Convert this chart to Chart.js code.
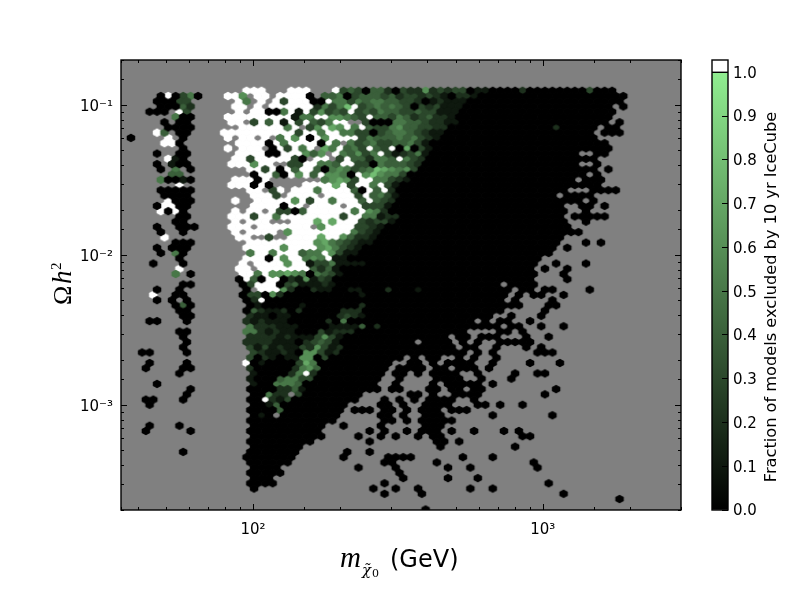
<!DOCTYPE html>
<html>
<head>
<meta charset="utf-8">
<script src="https://cdn.jsdelivr.net/npm/chart.js@4"></script>
<style>
html,body{margin:0;padding:0;background:#fff;width:800px;height:600px;overflow:hidden}
canvas{position:absolute;top:0}
#main{left:0}
#bar{left:700px}
</style>
</head>
<body>
<canvas id="main" width="800" height="600"></canvas>
<canvas id="bar" width="100" height="600"></canvas>
<script>
// Axis ranges and labels
const xRange = [35, 3000];
const yRange = [2e-4, 0.2];
const xDecadeLabels = {100: '10\u00B2', 1000: '10\u00B3'};
const yDecadeLabels = {0.1: '10\u207B\u00B9', 0.01: '10\u207B\u00B2', 0.001: '10\u207B\u00B3'};
const barTitle = 'Fraction of models excluded by 10 yr IceCube';
const barTicks = [0, 0.1, 0.2, 0.3, 0.4, 0.5, 0.6, 0.7, 0.8, 0.9, 1.0];

// Hexagonal bin lattice, in decades of the two log axes
const binLogX0 = 1.5783, binLogXStep = 0.02575;
const binLogY0 = -0.9043, binLogYStep = -0.03489;

// One line per hexagon row, top to bottom. "a-b" = cells a..b at fraction 0,
// "a:chars" = cells from a: digit = tenths of fraction, W = above 1.0, "." = no cell.
const hexRows = [
"16:WWW 22:WWW 28:W34304420322623233011 49-65 53:2 62:3",
"4:0W0350 13:WW6 17:WW 20:WWWW0 26:445034443423323210221 47-66",
"4:00033 15:W5 18:W 20:W3WWW 25:00W5535455443320 41:12111 46-66",
"4:00042 14:WW 17:W 19:WWWWW 24:W25358W34545430323111 45-64 66:0",
"3:000 7:W3 15:W 17:WW 19:005 22:W1 24:W36343W34354433433111 45-65",
"6:500 13:WWWWWWWWW 22:15 24:5WW66543W44354234221 44-64",
"5:0 7:00 14:WW 17:3W4W 21:1W3 24:W435WW 32:3000554432211 45-64 66:0",
"5:0000 15:WWWWWW 21:5W 24:36W76W5W43356443322 43-62 57:2 64:00",
"4:W4 7:00 13:WWWWWWWWWW 23:3 24:WW5WW55330345543211 43-62 64:000",
"0:0 5:W 7:0 13:W 15:WW 18:W 20:5W6W 24:0W6WWWW35444545321 42-62",
"5:WW 7:0 15:WWWW 19:0W5WWW 25:W0W5.53453344531 41-64",
"7:0 13:W 15:WWW 19:0W3W5W 25:.75W453W43W07031 41-64",
"4:0 7:00 15:WWWW 19:00WWW6 25:46.W54635W312351 41-60 63:00",
"5:W10 14:WW3WWWWW 22:30 25:WW.3W442554W532 40-62",
"4:0 6:100 14:WWW6WW 22:33W 25:W554WW330544432 40-60 63:0",
"4:0 6:5 8:0 16:WW3W0W4W 24:W40565345876563 39-62 64:0",
"6:44 17:0WW40W6 24:W4W6650W686553 38-61 63:0",
"4:50010 14:WWW0W 26:56763WW55321 38-59 61:000",
"7:W 14:WWW0W0 24:WWWW7W3WW5W31 37-63",
"4:00000 16:WW 19:3W 22:WW 24:W5WWWW40W4W2 36-58 62:00 64:00",
"5:0000 17:WWW3 22:WW 24:WW.WWWW3W4531 37-62 58:.",
"5:W000 14:W 17:WWWWW6W 24:3WW5WWW4W432 36-62 61:.",
"4:0WW00 17:WWWW0WW 25:WWWW.WW3331 36-58 61:00 64:0",
"4:W0W0 14:W.WW.W3304WW 26:WWWW5W652 35-58 61:0",
"7:00 14:WWW3WW5WWWW 25:WWWW3WW55122 37-58 60:00000",
"6:00 14:W.WWW...WWW7W7WWW32331 36-58 61:0",
"4:0 7:000 14:WWW.WWWWWWW.6WWWW3321 35-59",
"4:0 7:0 14:W.WWWW.6WWWWWWWW5321 34-60",
"5:W 15:WW..3..WWWW7WW64221 34-58",
"6:000 16:WWWWWWWWW67543211 33-57 61:0 63:0",
"4:0 6:000 16:WWWWW6WWWW675321 32-57 59:0",
"4:0 6:50 16:5WW5WWW455W6311 31-56",
"7:0 16:WWW0W6WW565W11 30-55",
"3:0 7:0 15:W.WWWW6WW13351111 32-54 57:0 61:0",
"7:W 15:WW.WWWWWWW4241 29-54 56:0 59:0",
"6:5 8:0 15:WW5W6676505431 29-54 58:0",
"15:0W40WW0216132 28-54 59:0",
"7:00 15:03WWW03411121 28-54 50:.",
"4:0 7:0 16:0.WWW6200211 28-54 30:11 35:2 39:1 52:. 56:00 62:0",
"3:W 6:00 15:033062 21-55 31:1 51:. 53:. 58:0",
"4:0 6:0 8:0 16:02W 19-52 51:. 57:0",
"6:040 16:01 18-52 23:1 31:2 56:00",
"7:00 16:042 19-50 19:112 23:2 29:222 56:0",
"7:00 16-48 16:211 20:11 28:232 31:1 51:0 55:0",
"3:00 8:0 16:212 19-46 19:1110 27:2 29:5 48:0 50:00 54:0",
"16:522 19-49 19:2111 27:1111 31:4 33:2 51:00 55:0 58:0",
"7:00 16:552 19-45 19:1211 26:31222 50:00 53:0",
"7:0 16:222 19-49 19:212111 25:3631 43:. 46:. 53:0 56:0",
"8:0 16:222 19-47 19:2111 24:23431 39:. 44:. 46:. 50:00000",
"7:0 16:313 19-46 19:1211 23:326312 44:. 49:0 53:0 55:0",
"2:00 8:0 17:321 20-47 20:121 24:66312 46:. 49:0 55:000",
"16:3 17-46 18:21 21:11 23:66 26:3 37:. 39:. 42:.. 45:. 49:0",
"3:0 8:0 16:W 17-45 18:1 23:375 36:.. 40:. 42:. 46:0 49:0 54:0 58:0",
"2:0 7:00 16:2 17-46 22:2564 35:. 40:. 43:. 48:0",
"7:0 17-44 17:1 22:25W2 35:. 38:. 40:. 47:0 52:0 55:00",
"16-36 16:1 20:45533 34:.. 41-44 47:0 51:0",
"4:0 17-33 17:1 20:5554 24:0 36:0 41-47 42:. 49:0",
"8:0 16-33 20:2241 35:00 40:00 43:00 46:00 57:0",
"8:0 17-31 19:522.3 38:00 41:0 44-47 56:0",
"2:00 7:0 16-30 18:W213 34:0 36:0 38:0 40:000 43:0 46:0",
"3:0 17-29 19:14 34:00 37:0 40:000 43:0 47:00 50:0 53:0",
"16-28 20:4 30:000 34:00 37:0 39:000 43:000",
"17-28 18:1 20:. 34:00 37:0 40:000 49:0 57:0",
"16-27 34:00 37:0 39-43",
"3:0 7:0 17-26 29:0 34:0 40:000",
"2:0 8:0 16-25 32:0 34:0 37:0 39:000 43:0 46:0 50:0 52:0",
"17-26 31:0 34:0 36:0 39:0 41:00 53:00",
"16-24 32:0 41:00 44:0",
"17-23 42:0 52:0",
"7:0 16-22 29:0 32:0",
"16-22 29:0 35:0000 45:0 49:0",
"16-21 34:00 41:0 54:0",
"17-20 31:0 36:0 43:0 46:0 55:0",
"16-20 36:0",
"17-19 37:0 43:0 47:0",
"16-19 34:0 56:0",
"17:0 33:0 36:0 39:0 46:0 49:0",
"34:0 39:0 58:0",
"66:0",
"",
"40:0"
];

// Decode rows into value classes
const classes = ['0','1','2','3','4','5','6','7','8','9','W'];
const classPoints = {};
classes.forEach(k => classPoints[k] = []);
hexRows.forEach((row, j) => {
  const cells = {};
  row.split(' ').filter(Boolean).forEach(tok => {
    let m = tok.match(/^(\d+)-(\d+)$/);
    if (m) { for (let c = +m[1]; c <= +m[2]; c++) cells[c] = '0'; return; }
    m = tok.match(/^(\d+):(.+)$/);
    [...m[2]].forEach((ch, i) => {
      if (ch === '.') delete cells[+m[1] + i]; else cells[+m[1] + i] = ch;
    });
  });
  const shift = j % 2 ? 0 : -0.5;
  Object.keys(cells).forEach(c => {
    classPoints[cells[c]].push({
      x: Math.pow(10, binLogX0 + (+c + shift) * binLogXStep),
      y: Math.pow(10, binLogY0 + j * binLogYStep)
    });
  });
});

function colourOf(k) {
  if (k === 'W') return '#ffffff';
  const v = +k / 10;
  return `rgb(${Math.round(144 * v)},${Math.round(238 * v)},${Math.round(144 * v)})`;
}
function hexSprite(colour) {
  const c = document.createElement('canvas');
  c.width = 12; c.height = 12;
  const g = c.getContext('2d');
  const w = 4.25, h = 4.2;
  g.fillStyle = colour;
  g.beginPath();
  g.moveTo(6, 6 - h);
  g.lineTo(6 + w, 6 - h / 2);
  g.lineTo(6 + w, 6 + h / 2);
  g.lineTo(6, 6 + h);
  g.lineTo(6 - w, 6 + h / 2);
  g.lineTo(6 - w, 6 - h / 2);
  g.closePath();
  g.fill();
  return c;
}

const frameAndTitles = {
  id: 'frameAndTitles',
  beforeDraw(chart) {
    const a = chart.chartArea, g = chart.ctx;
    g.save();
    g.fillStyle = '#808080';
    g.fillRect(a.left, a.top, a.right - a.left, a.bottom - a.top);
    g.restore();
  },
  afterDraw(chart) {
    const a = chart.chartArea, g = chart.ctx;
    const isDecade = v => Math.abs(Math.log10(v) - Math.round(Math.log10(v))) < 1e-6;
    g.save();
    g.strokeStyle = '#000';
    g.lineWidth = 1;
    g.beginPath();
    chart.scales.x.ticks.forEach(t => {
      const p = Math.round(chart.scales.x.getPixelForValue(t.value)) + 0.5;
      const l = isDecade(t.value) ? 6 : 3;
      g.moveTo(p, a.bottom); g.lineTo(p, a.bottom - l);
      g.moveTo(p, a.top); g.lineTo(p, a.top + l);
    });
    chart.scales.y.ticks.forEach(t => {
      const p = Math.round(chart.scales.y.getPixelForValue(t.value)) + 0.5;
      const l = isDecade(t.value) ? 6 : 3;
      g.moveTo(a.left, p); g.lineTo(a.left + l, p);
      g.moveTo(a.right, p); g.lineTo(a.right - l, p);
    });
    g.stroke();
    g.lineWidth = 1.4;
    g.strokeRect(a.left, a.top, a.right - a.left, a.bottom - a.top);

    // x title
    g.fillStyle = '#000';
    g.textBaseline = 'alphabetic';
    g.textAlign = 'left';
    g.font = 'italic 29px "Liberation Serif"';
    g.fillText('m', 340, 567);
    g.font = 'italic 15px "DejaVu Serif"';
    g.fillText('\u03C7\u0303', 362, 575);
    g.font = '11px "DejaVu Serif"';
    g.fillText('0', 372, 577);
    g.font = '24px "DejaVu Sans"';
    g.fillText('(GeV)', 390, 567);

    // y title
    g.translate(71, 305);
    g.rotate(-Math.PI / 2);
    g.font = '26px "Liberation Serif"';
    g.fillText('\u03A9', 0, 0);
    g.font = 'italic 27px "Liberation Serif"';
    g.fillText('h', 21, 0);
    g.font = '15px "Liberation Serif"';
    g.fillText('2', 35, -10);
    g.restore();
  }
};

new Chart(document.getElementById('main'), {
  type: 'scatter',
  data: {
    datasets: classes.map(k => ({
      label: k,
      data: classPoints[k],
      pointStyle: hexSprite(colourOf(k)),
      pointRadius: 4,
      pointHoverRadius: 4,
      backgroundColor: colourOf(k),
      borderWidth: 0,
      showLine: false
    }))
  },
  options: {
    responsive: false,
    animation: false,
    events: [],
    layout: {padding: {left: 0, top: 60, right: 119, bottom: 0}},
    plugins: {legend: {display: false}, tooltip: {enabled: false}},
    scales: {
      x: {
        type: 'logarithmic', min: xRange[0], max: xRange[1],
        afterFit: s => { s.height = 90; },
        grid: {display: false, drawTicks: false}, border: {display: false},
        ticks: {
          autoSkip: false, maxRotation: 0, padding: 11, color: '#000',
          font: {family: '"DejaVu Sans"', size: 15},
          callback: v => xDecadeLabels[v] || ''
        }
      },
      y: {
        type: 'logarithmic', min: yRange[0], max: yRange[1],
        afterFit: s => { s.width = 121; },
        grid: {display: false, drawTicks: false}, border: {display: false},
        ticks: {
          autoSkip: false, padding: 8, color: '#000', labelOffset: 1.5,
          font: {family: '"DejaVu Sans"', size: 15},
          callback: v => yDecadeLabels[v] || yDecadeLabels[+v.toPrecision(3)] || ''
        }
      }
    }
  },
  plugins: [frameAndTitles]
});

// Colour bar
const barMax = 1.0281;
const barFrame = {
  id: 'barFrame',
  afterDraw(chart) {
    const a = chart.chartArea, g = chart.ctx, y1 = chart.scales.y.getPixelForValue(1);
    g.save();
    g.strokeStyle = '#000';
    g.lineWidth = 1.4;
    g.strokeRect(a.left, a.top, a.right - a.left, a.bottom - a.top);
    g.beginPath();
    g.moveTo(a.left, y1); g.lineTo(a.right, y1);
    g.stroke();
    g.fillStyle = '#000';
    g.font = '16.2px "DejaVu Sans"';
    g.textAlign = 'center';
    g.textBaseline = 'alphabetic';
    g.translate(76, 297);
    g.rotate(-Math.PI / 2);
    g.fillText(barTitle, 0, 0);
    g.restore();
  }
};
new Chart(document.getElementById('bar'), {
  type: 'bar',
  data: {
    labels: ['fraction'],
    datasets: [
      {
        data: [[barTicks[0], barTicks[10]]],
        backgroundColor(ctx) {
          const c = ctx.chart, s = c.scales.y;
          if (!s || !c.chartArea) return '#000';
          const gr = c.ctx.createLinearGradient(0, s.getPixelForValue(0), 0, s.getPixelForValue(1));
          gr.addColorStop(0, '#000');
          gr.addColorStop(1, 'rgb(144,238,144)');
          return gr;
        },
        borderWidth: 0, categoryPercentage: 1, barPercentage: 1, grouped: false
      },
      {
        data: [[barTicks[10], barMax]],
        backgroundColor: '#fff',
        borderWidth: 0, categoryPercentage: 1, barPercentage: 1, grouped: false
      }
    ]
  },
  options: {
    responsive: false,
    animation: false,
    events: [],
    layout: {padding: {left: 12, top: 60, right: 0, bottom: 90}},
    plugins: {legend: {display: false}, tooltip: {enabled: false}},
    scales: {
      x: {display: false},
      y: {
        position: 'right', min: 0, max: barMax,
        afterFit: s => { s.width = 72; },
        afterBuildTicks: s => { s.ticks = barTicks.map(v => ({value: v})); },
        border: {display: false},
        grid: {drawOnChartArea: false, tickLength: -6, tickColor: '#000', z: 1},
        ticks: {
          padding: 11, color: '#000', labelOffset: 1.5,
          font: {family: '"DejaVu Sans"', size: 15},
          callback: v => v.toFixed(1)
        }
      }
    }
  },
  plugins: [barFrame]
});
</script>
</body>
</html>
